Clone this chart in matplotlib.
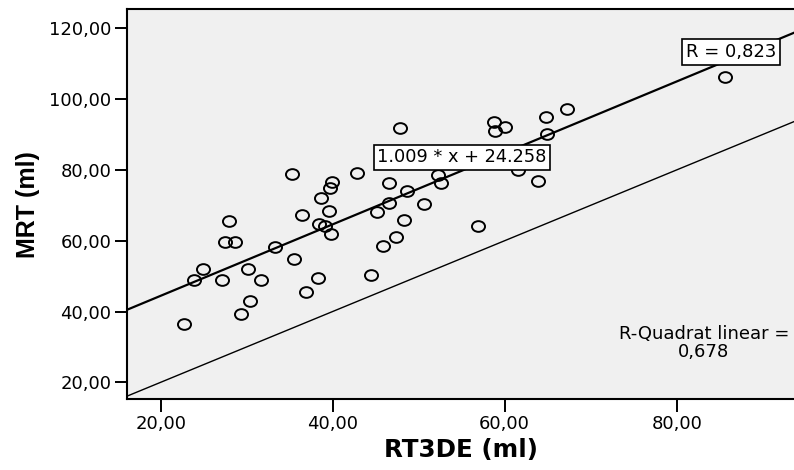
import numpy as np
import matplotlib
matplotlib.use("Agg")
import matplotlib.pyplot as plt
from matplotlib.path import Path
from matplotlib.transforms import Affine2D

# ---- data ----
rt3de = [22.7, 23.9, 24.9, 27.1, 27.5, 27.9, 28.6, 29.3, 30.1, 30.4,
         31.7, 33.3, 35.3, 35.5, 36.4, 36.9, 38.3, 38.4, 38.7, 39.1,
         39.6, 39.7, 39.9, 39.8, 42.8, 44.5, 45.2, 45.9, 46.5, 46.6,
         47.4, 47.8, 48.3, 48.6, 50.6, 52.2, 52.6, 56.9, 58.8, 58.9,
         60.0, 61.6, 63.9, 64.8, 64.9, 67.2, 85.6]
mrt = [36.5, 48.9, 52.0, 48.9, 59.7, 65.6, 59.7, 39.2, 51.9, 43.0,
       48.8, 58.1, 78.8, 54.7, 67.2, 45.4, 49.4, 64.7, 72.2, 64.2,
       68.4, 74.8, 76.5, 61.8, 79.2, 50.2, 68.2, 58.5, 76.4, 70.7,
       61.0, 91.8, 65.9, 74.0, 70.3, 78.5, 76.3, 64.2, 93.6, 91.1,
       92.2, 80.0, 77.0, 94.9, 90.1, 97.2, 106.3]

fit_slope = 1.009
fit_intercept = 24.258
ref_slope = 1.0
ref_intercept = 0.0
r_text = "R = 0,823"
r2_text = "R-Quadrat linear =\n0,678"

x_ticks = [20, 40, 60, 80]
x_tick_labels = ["20,00", "40,00", "60,00", "80,00"]
y_ticks = [20, 40, 60, 80, 100, 120]
y_tick_labels = ["20,00", "40,00", "60,00", "80,00", "100,00", "120,00"]
x_label = "RT3DE (ml)"
y_label = "MRT (ml)"

plt.rcParams["font.family"] = ["DejaVu Sans"]

W, H = 794, 470
fig = plt.figure(figsize=(W / 100, H / 100), dpi=100)
left_px, right_px, top_px, bottom_px = 127.3, 794, 9, 399.3
ax = fig.add_axes([left_px / W, (H - bottom_px) / H,
                   (right_px - left_px) / W, (bottom_px - top_px) / H])
ax.set_facecolor("#f0f0f0")
ax.set_xlim(16.12, 93.64)
ax.set_ylim(15.2, 125.45)

xl = np.array(ax.get_xlim())
ax.plot(xl, fit_slope * xl + fit_intercept, color="black", lw=1.6, zorder=2)
ax.plot(xl, ref_slope * xl + ref_intercept, color="black", lw=1.0, zorder=2)

ell = Path.unit_circle().transformed(Affine2D().scale(1.0, 0.82))
ax.plot(rt3de, mrt, linestyle="none", marker=ell, ms=9.4,
        mfc="none", mec="black", mew=1.4, zorder=3)

box = dict(boxstyle="square,pad=0.2", fc="white", ec="black", lw=1.2)
ax.text(55.03, 83.6, f"{fit_slope} * x + {fit_intercept}", fontsize=12.8,
        ha="center", va="center", bbox=box, zorder=5)
ax.text(86.3, 113.4, r_text, fontsize=13, ha="center", va="center",
        bbox=dict(boxstyle="square,pad=0.22", fc="white", ec="black", lw=1.2),
        zorder=5)
ax.text(83.17, 31.1, r2_text, fontsize=13, ha="center", va="center",
        multialignment="center", linespacing=1.0, zorder=5)

ax.set_xticks(x_ticks)
ax.set_xticklabels(x_tick_labels)
ax.set_yticks(y_ticks)
ax.set_yticklabels(y_tick_labels)
ax.tick_params(axis="both", direction="out", length=9, width=1.4,
               labelsize=13, colors="black")
ax.tick_params(axis="x", pad=2)
ax.tick_params(axis="y", pad=2.5)
ax.tick_params(top=False, right=False)

for s in ["left", "bottom", "top"]:
    ax.spines[s].set_linewidth(1.5)
    ax.spines[s].set_color("black")
ax.spines["right"].set_visible(False)

ax.set_xlabel(x_label, fontsize=17.7, fontweight="bold", va="center")
ax.xaxis.set_label_coords((460.8 - left_px) / (right_px - left_px),
                          (bottom_px - 450) / (bottom_px - top_px))
ax.set_ylabel(y_label, fontsize=18, fontweight="bold", va="center",
              family=["Liberation Sans", "DejaVu Sans"])
ax.yaxis.set_label_coords((28 - left_px) / (right_px - left_px),
                          (bottom_px - 205) / (bottom_px - top_px))

fig.savefig("out.png", dpi=100)
